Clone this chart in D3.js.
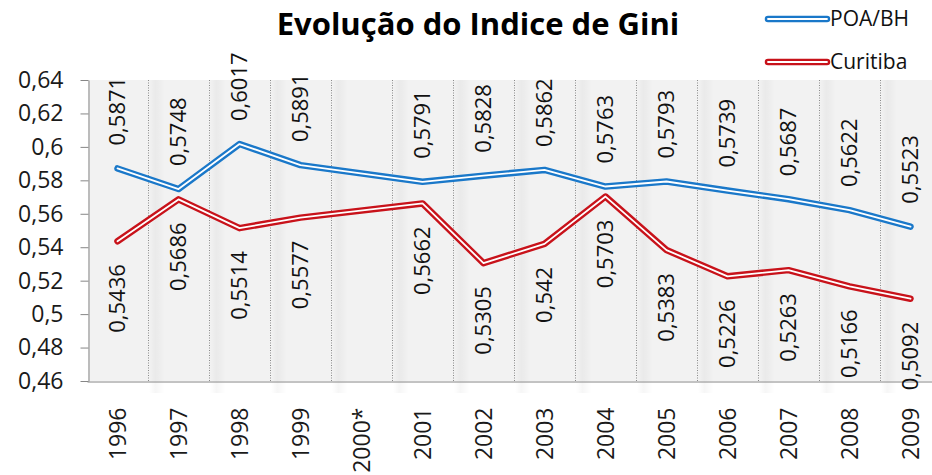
<!DOCTYPE html>
<html>
<head>
<meta charset="utf-8">
<script src="https://cdn.jsdelivr.net/npm/d3@7"></script>
<style>
    body { margin: 0; background: #fff; }
    svg { display: block; font-family: "Open Sans", sans-serif; }
</style>
</head>
<body>
<svg width="932" height="475"></svg>
<script>
// Chart data
var years = ["1996", "1997", "1998", "1999", "2000*", "2001", "2002", "2003", "2004", "2005", "2006", "2007", "2008", "2009"];
var poaBh = [0.5871, 0.5748, 0.6017, 0.5891, null, 0.5791, 0.5828, 0.5862, 0.5763, 0.5793, 0.5739, 0.5687, 0.5622, 0.5523];
var curitiba = [0.5436, 0.5686, 0.5514, 0.5577, null, 0.5662, 0.5305, 0.542, 0.5703, 0.5383, 0.5226, 0.5263, 0.5166, 0.5092];
var yTicks = [0.46, 0.48, 0.5, 0.52, 0.54, 0.56, 0.58, 0.6, 0.62, 0.64];

var series = [
    { name: "POA/BH", values: poaBh, color: "#1a78c9", labelSide: "above" },
    { name: "Curitiba", values: curitiba, color: "#c8121a", labelSide: "below" }
];

// Layout
var plotLeft = 87, plotRight = 941, plotTop = 80, plotBottom = 381;
var labelGap = 23;

var svg = d3.select("svg");

var x = d3.scaleBand()
    .domain(years)
    .range([plotLeft, plotRight])
    .padding(0);

var y = d3.scaleLinear()
    .domain([0.46, 0.64])
    .range([plotBottom, plotTop]);

function comma(v) {
    return String(v).replace(".", ",");
}

// Shade gradient next to the grid lines
var defs = svg.append("defs");
var grad = defs.append("linearGradient")
    .attr("id", "shade")
    .attr("x1", "0%").attr("x2", "100%")
    .attr("y1", "0%").attr("y2", "0%");
grad.append("stop").attr("offset", "0%").attr("stop-color", "#000").attr("stop-opacity", 0.0);
grad.append("stop").attr("offset", "40%").attr("stop-color", "#000").attr("stop-opacity", 0.035);
grad.append("stop").attr("offset", "100%").attr("stop-color", "#000").attr("stop-opacity", 0);

// Plot area
svg.append("rect")
    .attr("x", plotLeft + 1)
    .attr("y", plotTop)
    .attr("width", plotRight - plotLeft)
    .attr("height", plotBottom - plotTop)
    .attr("fill", "#f2f2f2");

var bounds = years.slice(1).map(function (d) { return x(d); });

svg.selectAll(".shade")
    .data(bounds)
    .enter()
    .append("rect")
    .attr("class", "shade")
    .attr("x", function (d) { return d + 1; })
    .attr("y", plotTop)
    .attr("width", 16)
    .attr("height", plotBottom - plotTop + 12)
    .attr("fill", "url(#shade)");

svg.selectAll(".grid")
    .data(bounds)
    .enter()
    .append("line")
    .attr("class", "grid")
    .attr("x1", function (d) { return d + 0.5; })
    .attr("x2", function (d) { return d + 0.5; })
    .attr("y1", plotTop)
    .attr("y2", plotBottom)
    .attr("stroke", "#8a8a8a")
    .attr("stroke-width", 1)
    .attr("stroke-dasharray", "1,1.5");

// Y axis
var yAxis = svg.append("g")
    .attr("transform", "translate(" + (plotLeft + 1.5) + ",0)")
    .call(d3.axisLeft(y)
        .tickValues(yTicks)
        .tickFormat(comma)
        .tickSize(8)
        .tickSizeOuter(0)
        .tickPadding(17));
yAxis.select(".domain").attr("stroke", "#868686");
yAxis.selectAll(".tick line").attr("stroke", "#868686");
yAxis.selectAll("text")
    .attr("font-size", "23px")
    .attr("font-family", "'Open Sans', sans-serif")
    .attr("fill", "#1a1a1a");

// X axis
var xAxis = svg.append("g")
    .attr("transform", "translate(0," + (plotBottom + 0.5) + ")")
    .call(d3.axisBottom(x).tickSize(0).tickSizeOuter(0));
xAxis.select(".domain").attr("stroke", "#868686");
xAxis.selectAll("text")
    .attr("font-size", "23px")
    .attr("font-family", "'Open Sans', sans-serif")
    .attr("fill", "#1a1a1a")
    .attr("text-anchor", "end")
    .attr("transform", "rotate(-90)")
    .attr("x", -26)
    .attr("y", 0)
    .attr("dy", "0.35em");

// Lines (outer colour stroke with a thin white core)
var line = d3.line()
    .x(function (d) { return x(d.year) + x.bandwidth() / 2; })
    .y(function (d) { return y(d.value); });

series.forEach(function (s) {
    var pts = years.map(function (yr, i) { return { year: yr, value: s.values[i] }; })
        .filter(function (d) { return d.value !== null; });

    svg.append("path")
        .datum(pts)
        .attr("d", line)
        .attr("fill", "none")
        .attr("stroke", s.color)
        .attr("stroke-width", 6.5)
        .attr("stroke-linejoin", "round")
        .attr("stroke-linecap", "round");
    svg.append("path")
        .datum(pts)
        .attr("d", line)
        .attr("fill", "none")
        .attr("stroke", "#fff")
        .attr("stroke-width", 1.8)
        .attr("stroke-linejoin", "round")
        .attr("stroke-linecap", "round");

    svg.selectAll(".label-" + s.labelSide)
        .data(pts)
        .enter()
        .append("text")
        .attr("class", "label-" + s.labelSide)
        .attr("transform", function (d) {
            var py = y(d.value) + (s.labelSide === "above" ? -labelGap : labelGap);
            return "translate(" + (x(d.year) + x.bandwidth() / 2) + "," + py + ") rotate(-90)";
        })
        .attr("text-anchor", s.labelSide === "above" ? "start" : "end")
        .attr("dy", "0.35em")
        .attr("font-size", "22px")
        .attr("fill", "#111")
        .text(function (d) { return comma(d.value); });
});

// Title
svg.append("text")
    .attr("x", 478)
    .attr("y", 35)
    .attr("text-anchor", "middle")
    .attr("font-size", "31px")
    .attr("font-weight", "bold")
    .attr("fill", "#000")
    .text("Evolução do Indice de Gini");

// Legend
var legend = svg.selectAll(".legend")
    .data(series)
    .enter()
    .append("g")
    .attr("class", "legend")
    .attr("transform", function (d, i) { return "translate(768," + (19 + i * 43) + ")"; });
legend.append("line")
    .attr("x1", 0).attr("x2", 59)
    .attr("stroke", function (d) { return d.color; })
    .attr("stroke-width", 6.5)
    .attr("stroke-linecap", "round");
legend.append("line")
    .attr("x1", 0).attr("x2", 59)
    .attr("stroke", "#fff")
    .attr("stroke-width", 1.8)
    .attr("stroke-linecap", "round");
legend.append("text")
    .attr("x", 62)
    .attr("dy", "0.35em")
    .attr("font-size", "21px")
    .attr("fill", "#111")
    .text(function (d) { return d.name; });
</script>
</body>
</html>
